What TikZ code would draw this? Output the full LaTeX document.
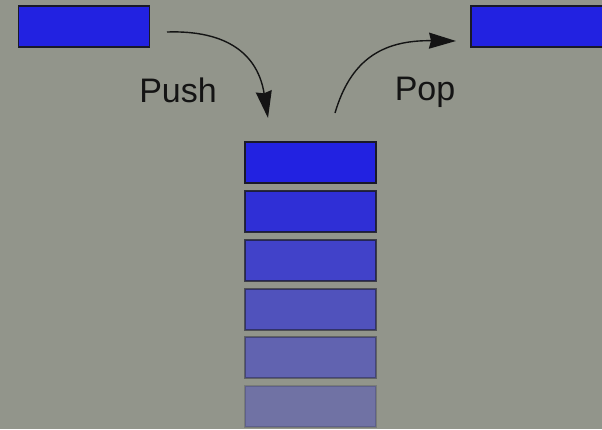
\documentclass[tikz,border=0pt]{standalone}
\usepackage{fontspec}
\setmainfont{Liberation Sans}
\usetikzlibrary{arrows.meta}
\definecolor{bggray}{RGB}{146,149,139}
\definecolor{boxblue}{RGB}{34,34,225}
\definecolor{edgegray}{RGB}{25,25,40}
\definecolor{inkdark}{RGB}{20,20,20}
\tikzset{
  box/.style={draw=edgegray, line width=1.2pt, fill=boxblue, minimum width=131pt, minimum height=41pt, inner sep=0pt},
  curvearrow/.style={draw=inkdark, line width=1.4pt, -{Stealth[length=27pt,width=16pt,inset=2pt]}},
  lbl/.style={text=inkdark, font=\fontsize{34}{40}\selectfont, inner sep=0pt}
}
\begin{document}
\begin{tikzpicture}[x=1pt,y=-1pt]
\fill[bggray] (0,0) rectangle (602,429);
\useasboundingbox (0,0) rectangle (602,429);
\node[box] (left) at (84,26.5) {};
\node[box, minimum width=133pt] (right) at (537.5,26.5) {};
\node[box] (s1) at (310.5,162.5) {};
\node[box, fill opacity=0.88, draw opacity=0.85] (s2) at (310.5,211.5) {};
\node[box, fill opacity=0.72, draw opacity=0.7] (s3) at (310.5,260.5) {};
\node[box, fill opacity=0.58, draw opacity=0.55] (s4) at (310.5,309.5) {};
\node[box, fill opacity=0.43, draw opacity=0.4] (s5) at (310.5,357.5) {};
\node[box, fill opacity=0.3, draw opacity=0.2] (s6) at (310.5,406.5) {};
\node[lbl, anchor=base] (push) at (178,102) {Push};
\node[lbl, anchor=base] (pop) at (425,100) {Pop};
\coordinate (pushstart) at (167,32);
\coordinate (pushend) at (268,118);
\coordinate (popstart) at (335,113);
\coordinate (popend) at (456,41);
\draw[curvearrow] (pushstart) .. controls (228,30) and (258,55) .. (pushend);
\draw[curvearrow] (popstart) .. controls (350,62) and (380,40) .. (popend);
\end{tikzpicture}
\end{document}
